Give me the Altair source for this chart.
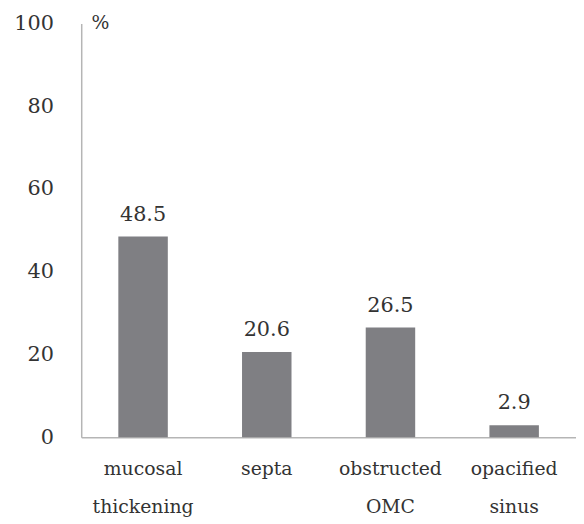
import altair as alt
import pandas as pd

categories = ["mucosal\nthickening", "septa", "obstructed\nOMC", "opacified\nsinus"]
values = [48.5, 20.6, 26.5, 2.9]
labels = ["48.5", "20.6", "26.5", "2.9"]

df = pd.DataFrame({"cat": categories, "val": values, "lab": labels})

FONT = "DejaVu Serif"
TXT = "#333333"
FS = 21

x = alt.X("cat:N", sort=categories,
          scale=alt.Scale(paddingInner=0.6, paddingOuter=0.3),
          axis=alt.Axis(title=None, labelAngle=0, ticks=False, domainColor="#b5b5b5",
                        domainWidth=1.5, labelFont=FONT, labelFontSize=19, labelColor=TXT,
                        labelPadding=23, labelExpr="split(datum.label, '\\n')",
                        labelLineHeight=38, labelBaseline="top"))
y = alt.Y("val:Q", scale=alt.Scale(domain=[0, 100]),
          axis=alt.Axis(values=[0, 20, 40, 60, 80, 100], grid=False, ticks=False,
                        domainColor="#b5b5b5", domainWidth=1.5, labelFont=FONT,
                        labelFontSize=FS, labelColor=TXT, labelPadding=28,
                        title="%", titleAngle=0, titleAlign="left", titleBaseline="middle",
                        titleX=10, titleY=-1, titleFont=FONT, titleFontSize=19,
                        titleFontWeight="normal", titleColor=TXT))

bars = alt.Chart(df).mark_bar(color="#7f7f83").encode(x=x, y=y)
text = alt.Chart(df).mark_text(font=FONT, fontSize=FS, color=TXT, baseline="bottom", dy=-12).encode(
    x=alt.X("cat:N", sort=categories), y="val:Q", text="lab:N")

chart = (bars + text).properties(
    width=500, height=418,
    autosize=alt.AutoSizeParams(type="none"),
    padding={"left": 74, "top": 13, "right": 0, "bottom": 85},
    background="white",
).configure_view(stroke=None)

chart.save("out.html", embed_options={"renderer": "svg", "actions": False})
